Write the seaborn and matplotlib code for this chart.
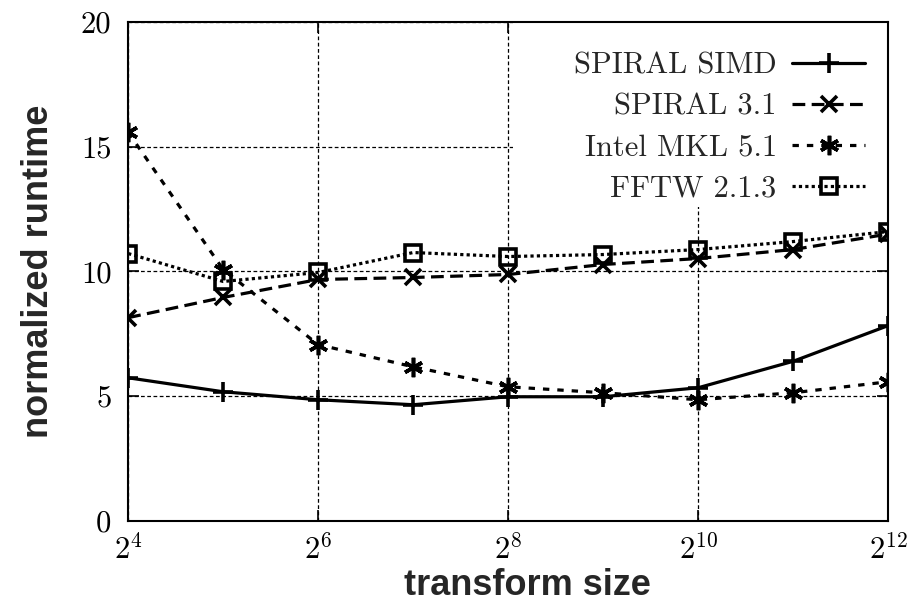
import numpy as np
import pandas as pd
import seaborn as sns
import matplotlib
matplotlib.use("Agg")
import matplotlib.pyplot as plt
from matplotlib.ticker import FixedLocator
from matplotlib.patches import Rectangle

sizes = [2**4, 2**5, 2**6, 2**7, 2**8, 2**9, 2**10, 2**11, 2**12]
spiral_simd = [5.74, 5.18, 4.86, 4.66, 4.98, 4.98, 5.34, 6.4, 7.83]
spiral_31 = [8.15, 8.96, 9.68, 9.76, 9.88, 10.28, 10.52, 10.88, 11.5]
intel_mkl = [15.58, 10.08, 7.07, 6.18, 5.38, 5.14, 4.86, 5.14, 5.58]
fftw = [10.72, 9.6, 9.96, 10.76, 10.6, 10.68, 10.88, 11.2, 11.6]
series_names = ["SPIRAL SIMD", "SPIRAL 3.1", "Intel MKL 5.1", "FFTW 2.1.3"]
xtick_labels = ["$2^{4}$", "$2^{6}$", "$2^{8}$", "$2^{10}$", "$2^{12}$"]
ytick_labels = ["0", "5", "10", "15", "20"]

df = pd.concat([
    pd.DataFrame({"size": sizes, "runtime": vals, "series": name})
    for name, vals in zip(series_names, [spiral_simd, spiral_31, intel_mkl, fftw])
])

sns.set_style("ticks")
plt.rcParams["mathtext.fontset"] = "cm"
plt.rcParams["font.family"] = ["cmr10", "DejaVu Serif"]
plt.rcParams["axes.formatter.use_mathtext"] = True
plt.rcParams["axes.unicode_minus"] = False

fig = plt.figure(figsize=(9.09, 6.04), dpi=100)
ax = fig.add_axes([0.141, 0.1374, 0.836, 0.8262])

markers = {"SPIRAL SIMD": "+", "SPIRAL 3.1": "x", "Intel MKL 5.1": (6, 2, 0), "FFTW 2.1.3": "s"}
linestyles = {"SPIRAL SIMD": "-", "SPIRAL 3.1": (0, (4, 2)), "Intel MKL 5.1": (0, (2, 2.5)),
              "FFTW 2.1.3": (0, (1, 1))}
msizes = {"SPIRAL SIMD": 14, "SPIRAL 3.1": 12, "Intel MKL 5.1": 14, "FFTW 2.1.3": 12}

for name in series_names:
    sub = df[df["series"] == name]
    sns.lineplot(data=sub, x="size", y="runtime", ax=ax, color="black",
                 marker=markers[name], linestyle=linestyles[name], linewidth=2.3,
                 markersize=msizes[name], markeredgewidth=2.6, markerfacecolor="none",
                 markeredgecolor="black", label=name)

ax.set_xscale("log", base=2)
ax.set_xlim(2**4, 2**12)
ax.set_ylim(0, 20)
ax.xaxis.set_major_locator(FixedLocator([2**4, 2**6, 2**8, 2**10, 2**12]))
ax.xaxis.set_minor_locator(FixedLocator([]))
ax.set_xticklabels(xtick_labels)
ax.yaxis.set_major_locator(FixedLocator([0, 5, 10, 15, 20]))
ax.set_yticklabels(ytick_labels)

ax.grid(True, which="major", color="black", linestyle=(0, (3, 2)), linewidth=0.9)
ax.tick_params(direction="in", length=8, width=1.2, top=True, right=True,
               labelsize=22, colors="black")
ax.tick_params(axis="y", pad=12)
ax.tick_params(axis="x", pad=9)
for s in ax.spines.values():
    s.set_color("black")
    s.set_linewidth(1.5)

# white area behind the legend, hiding the grid there
ax.add_patch(Rectangle((0.507, 0.629), 0.493, 0.371, transform=ax.transAxes,
                       facecolor="white", edgecolor="none", zorder=1))

ax.set_xlabel("transform size", fontsize=26, fontweight="bold",
              family=["Liberation Sans", "DejaVu Sans"], va="center")
ax.xaxis.set_label_coords(0.525, -0.129)
ax.set_ylabel("normalized runtime", fontsize=26, fontweight="bold",
              family=["Liberation Sans", "DejaVu Sans"], va="center")
ax.yaxis.set_label_coords(-0.118, 0.5)

h, l = ax.get_legend_handles_labels()
leg = ax.legend(h, l, loc="upper right", bbox_to_anchor=(0.970, 0.940),
                frameon=False, markerfirst=False,
                fontsize=22, handlelength=2.4, handletextpad=0.5,
                labelspacing=0.45, borderaxespad=0.0, borderpad=0.0)
leg.set_zorder(5)

fig.savefig("out.png", dpi=100)
